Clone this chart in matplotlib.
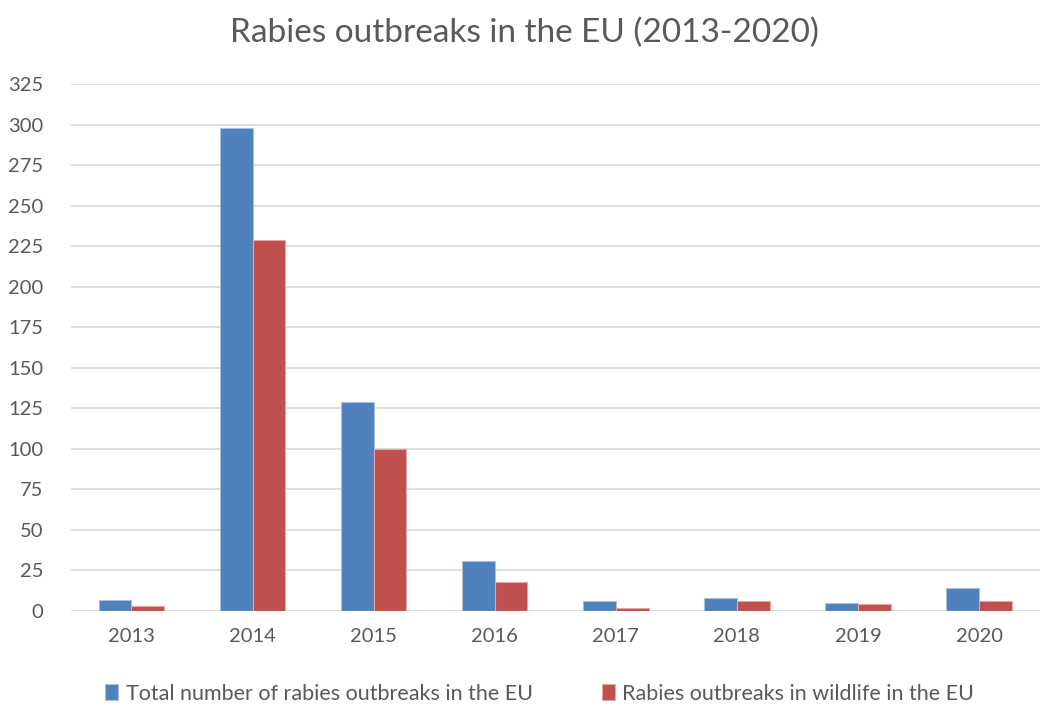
import numpy as np
import matplotlib.pyplot as plt

years = ['2013', '2014', '2015', '2016', '2017', '2018', '2019', '2020']
total_outbreaks = [7, 298, 129, 31, 6, 8, 5, 14]
wildlife_outbreaks = [3, 229, 100, 18, 2, 6, 4, 6]
y_ticks = list(range(0, 326, 25))

plt.rcParams['font.family'] = ['Lato', 'DejaVu Sans']
text_color = '#595959'

fig = plt.figure(figsize=(10.48, 7.06), dpi=100)
ax = fig.add_axes([0.0677, 0.1346, 0.9243, 0.7464])

x = np.arange(len(years))
w = 0.27
ax.bar(x - w / 2, total_outbreaks, w, color='#4F81BD', edgecolor='#A7C0DE',
       linewidth=0.8, label='Total number of rabies outbreaks in the EU', zorder=3)
ax.bar(x + w / 2, wildlife_outbreaks, w, color='#C0504D', edgecolor='#DFA8A6',
       linewidth=0.8, label='Rabies outbreaks in wildlife in the EU', zorder=3)

ax.set_xlim(-0.5, len(years) - 0.5)
ax.set_ylim(0, 325)
ax.set_xticks(x)
ax.set_xticklabels(years)
ax.set_yticks(y_ticks)
ax.tick_params(axis='both', length=0, labelsize=14.5, labelcolor=text_color)
ax.tick_params(axis='x', pad=12)
ax.tick_params(axis='y', pad=20)
ax.yaxis.grid(True, color='#D9D9D9', linewidth=1.2, zorder=0)
for s in ax.spines.values():
    s.set_visible(False)

fig.suptitle('Rabies outbreaks in the EU (2013-2020)', fontsize=24,
             color=text_color, y=0.975)
fig.legend(loc='lower center', bbox_to_anchor=(0.515, -0.024), ncol=2,
           frameon=False, fontsize=15.5, labelcolor=text_color,
           handlelength=0.6, handleheight=0.8, handletextpad=0.35,
           columnspacing=3.2)

fig.savefig('out.png', dpi=100)
